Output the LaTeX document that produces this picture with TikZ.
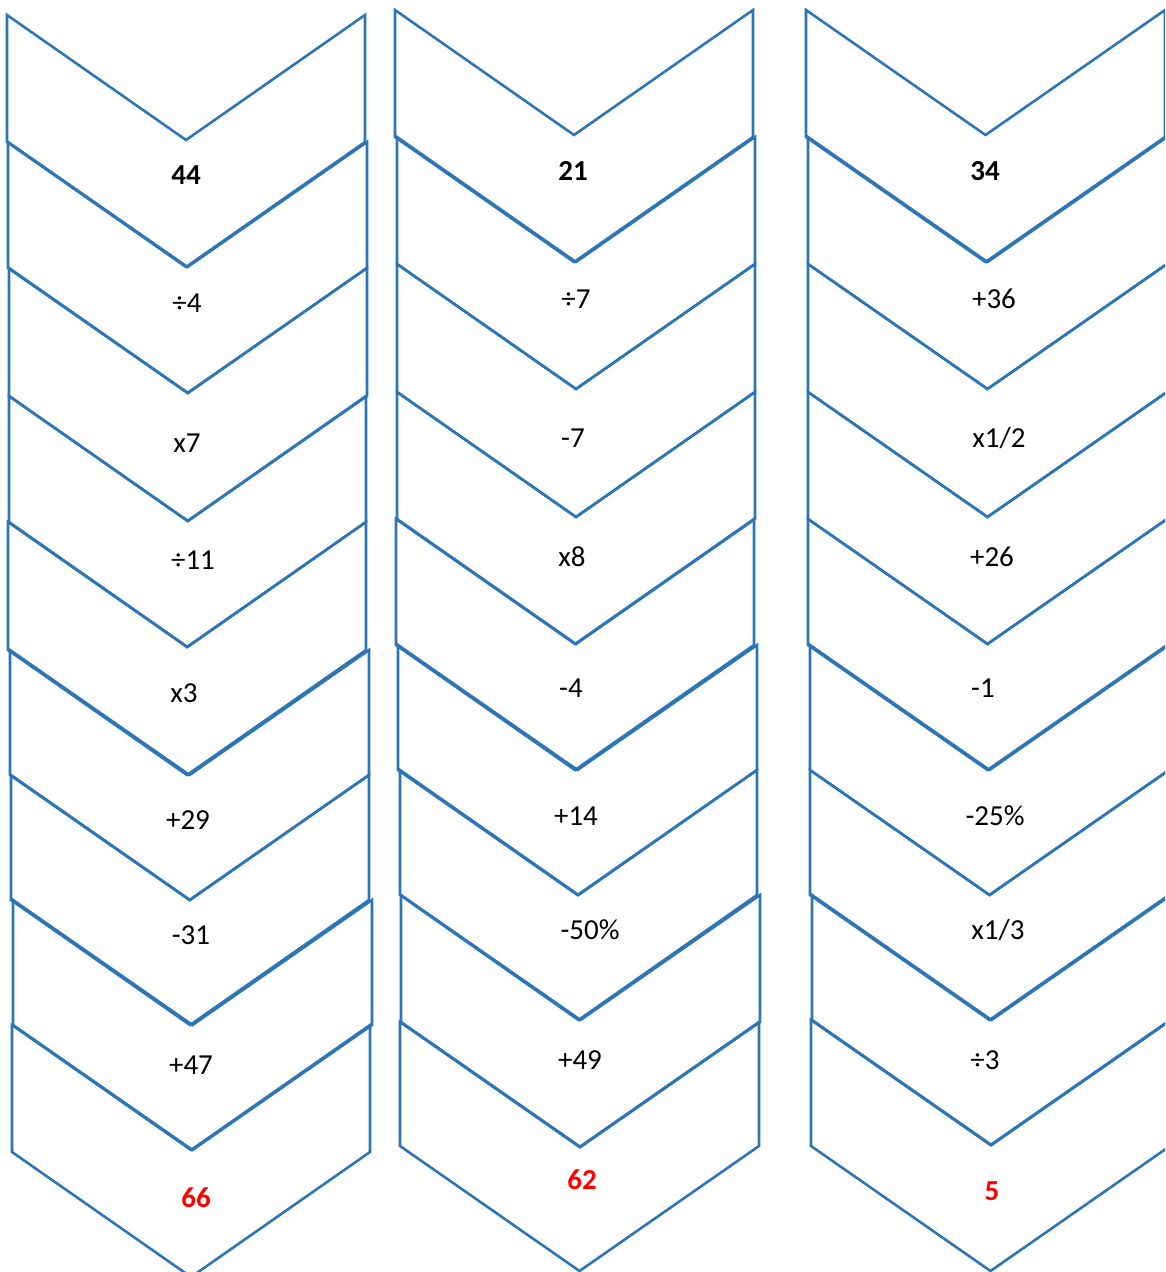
\documentclass[tikz,border=0pt]{standalone}
\usepackage{fontspec}
\setmainfont{Carlito}
\definecolor{chevblue}{HTML}{2E75B6}
\definecolor{resred}{HTML}{FF0000}
\tikzset{
  chevline/.style={draw=chevblue, line width=2.6pt, line join=miter},
  optext/.style={font=\fontsize{29}{35}\selectfont, inner sep=0pt, anchor=center},
  starttext/.style={optext, font=\fontsize{29}{35}\selectfont\bfseries},
  endtext/.style={starttext, text=resred}
}
% #1 left x, #2 right x, #3 top y of sides, #4 bottom y of sides
\newcommand\chevshape[4]{%
  \draw[chevline] (#1,#3) -- ({(#1+#2)/2},{#3+125}) -- (#2,#3) -- (#2,#4)
    -- ({(#1+#2)/2},{#4+125}) -- (#1,#4) -- cycle;}
\begin{document}
\begin{tikzpicture}[x=1pt,y=-1pt]
\useasboundingbox (0,0) rectangle (1165,1272);
\clip (0,0) rectangle (1165,1272);
% column 1
\chevshape{7}{365}{15}{142}
\chevshape{8}{367}{142}{268}
\chevshape{9}{367}{268}{396}
\chevshape{9}{366}{396}{522}
\chevshape{8}{366}{522}{650}
\chevshape{10}{369}{650}{775}
\chevshape{11}{369}{775}{900}
\chevshape{13}{372}{900}{1025}
\chevshape{12}{370}{1025}{1152}
% column 2
\chevshape{395}{753}{10}{137}
\chevshape{397}{755}{137}{264}
\chevshape{397}{755}{264}{392}
\chevshape{397}{755}{392}{519}
\chevshape{396}{754}{519}{645}
\chevshape{398}{757}{645}{770}
\chevshape{400}{757}{770}{895}
\chevshape{401}{760}{895}{1022}
\chevshape{400}{759}{1022}{1146}
% column 3
\chevshape{806}{1165}{10}{137}
\chevshape{808}{1167}{137}{264}
\chevshape{808}{1167}{264}{392}
\chevshape{808}{1167}{392}{519}
\chevshape{808}{1167}{519}{645}
\chevshape{810}{1169}{645}{770}
\chevshape{810}{1169}{770}{895}
\chevshape{812}{1171}{895}{1020}
\chevshape{811}{1170}{1020}{1146}
% texts column 1
\node[starttext] (a0) at (186,175) {44};
\node[optext] (a1) at (187,303) {÷4};
\node[optext] (a2) at (187,443) {x7};
\node[optext] (a3) at (193,560) {÷11};
\node[optext] (a4) at (184,693) {x3};
\node[optext] (a5) at (188,820) {+29};
\node[optext] (a6) at (191,935) {-31};
\node[optext] (a7) at (191,1065) {+47};
\node[endtext] (a8) at (196,1198) {66};
% texts column 2
\node[starttext] (b0) at (573,171) {21};
\node[optext] (b1) at (576,299) {÷7};
\node[optext] (b2) at (573,438) {-7};
\node[optext] (b3) at (572,557) {x8};
\node[optext] (b4) at (571,688) {-4};
\node[optext] (b5) at (576,816) {+14};
\node[optext] (b6) at (590,930) {-50\%};
\node[optext] (b7) at (580,1060) {+49};
\node[endtext] (b8) at (582,1180) {62};
% texts column 3
\node[starttext] (c0) at (985,171) {34};
\node[optext] (c1) at (994,299) {+36};
\node[optext] (c2) at (999,438) {x1/2};
\node[optext] (c3) at (992,557) {+26};
\node[optext] (c4) at (983,688) {-1};
\node[optext] (c5) at (995,816) {-25\%};
\node[optext] (c6) at (998,930) {x1/3};
\node[optext] (c7) at (985,1060) {÷3};
\node[endtext] (c8) at (992,1191) {5};
\end{tikzpicture}
\end{document}
